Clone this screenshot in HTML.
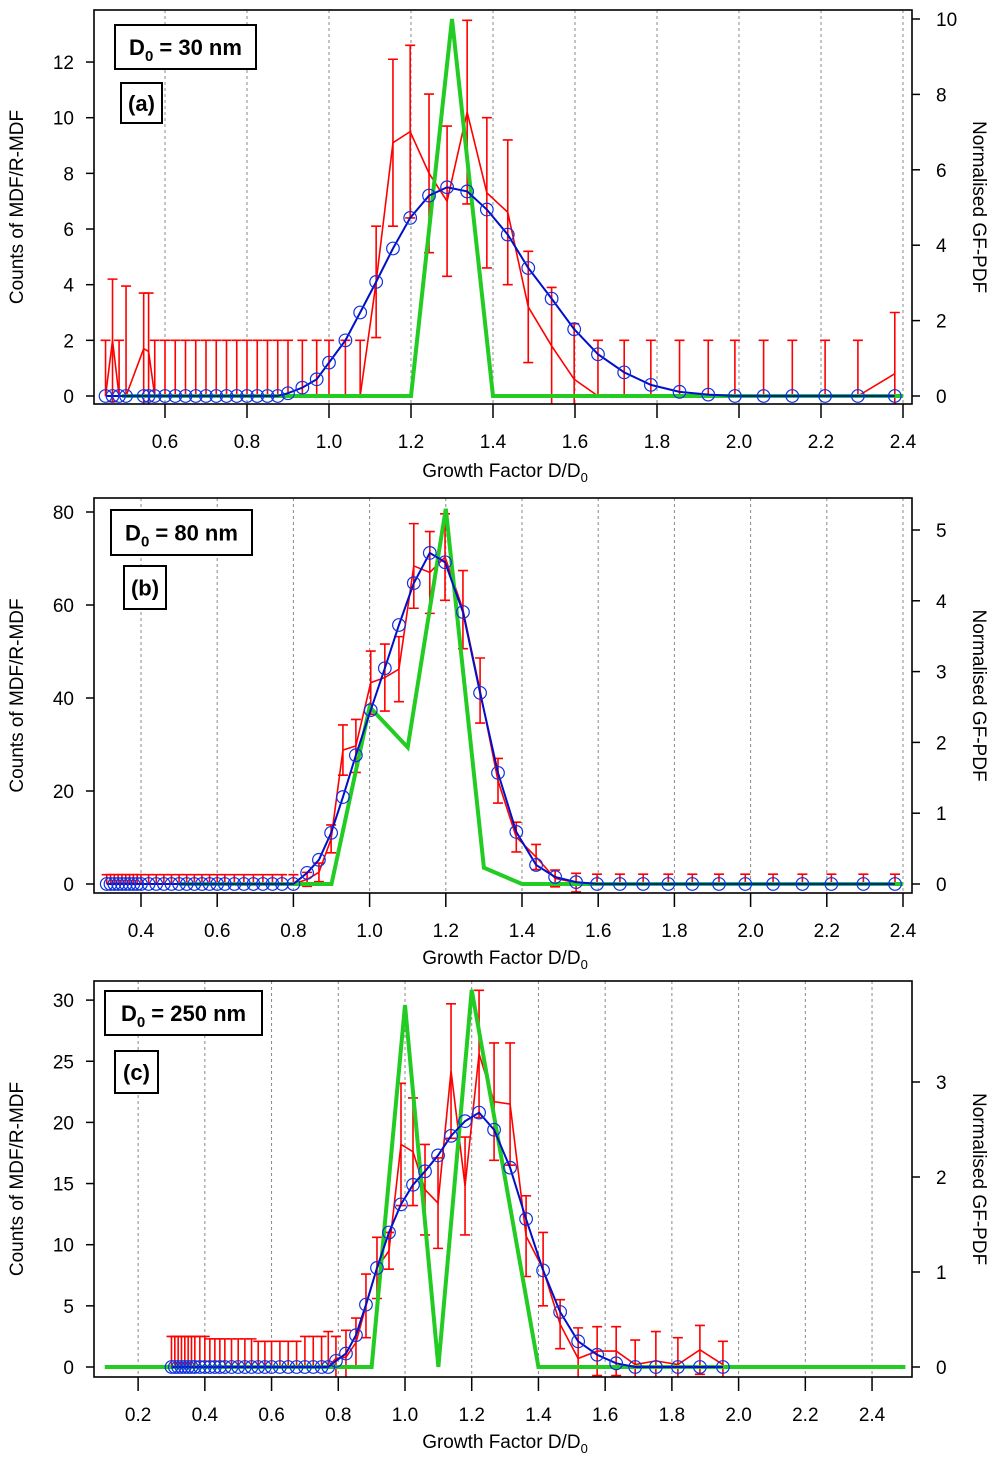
<!DOCTYPE html>
<html><head><meta charset="utf-8"><style>
html,body{margin:0;padding:0;background:#fff;}
svg{display:block;font-family:"Liberation Sans",Arial,sans-serif;}
</style></head><body>
<svg id="chart" width="997" height="1464" viewBox="0 0 997 1464" xmlns="http://www.w3.org/2000/svg"></svg>
<script>
// ---------- Panel (a) D0 = 30 nm ----------
const aGF = [0.455,0.472,0.488,0.505,0.548,0.56,0.575,0.6,0.625,0.65,0.675,0.70,0.725,0.75,0.775,0.80,0.825,0.85,0.875,0.90,0.935,0.97,1.0,1.04,1.076,1.115,1.156,1.198,1.244,1.288,1.337,1.385,1.436,1.486,1.543,1.598,1.656,1.72,1.785,1.855,1.925,1.99,2.06,2.13,2.21,2.29,2.38];
const aFit = [0,0,0,0,0,0,0,0,0,0,0,0,0,0,0,0,0,0,0,0.1,0.3,0.6,1.2,2.0,3.0,4.1,5.3,6.4,7.2,7.5,7.35,6.7,5.8,4.6,3.5,2.4,1.5,0.85,0.4,0.15,0.05,0,0,0,0,0,0];
const aCnt = [0,2,0,0,1.7,1.6,0,0,0,0,0,0,0,0,0,0,0,0,0,0,0,0,0,0,0,4.1,9.1,9.5,8.0,7.0,10.2,7.3,6.6,3.2,1.8,0.6,0,0,0,0,0,0,0,0,0,0,0.8];
const aErr = [2,2.2,2,3.95,2,2.1,2,2,2,2,2,2,2,2,2,2,2,2,2,2,2,2,2,2,2,2,3.0,3.1,2.85,2.7,3.3,2.7,2.6,2.0,2.1,2.0,2,2,2,2,2,2,2,2,2,2,2.2];
const aGreenX = [0.495,1.2,1.3,1.4,2.4];
const aGreenY = [0,0,10,0,0];
const aXTicks = [0.6,0.8,1.0,1.2,1.4,1.6,1.8,2.0,2.2,2.4];
const aYTicks = [0,2,4,6,8,10,12];
const aRTicks = [0,2,4,6,8,10];

// ---------- Panel (b) D0 = 80 nm ----------
const bGF = [0.31,0.32,0.33,0.34,0.35,0.36,0.37,0.38,0.39,0.40,0.42,0.44,0.46,0.48,0.50,0.52,0.54,0.56,0.58,0.60,0.62,0.645,0.67,0.695,0.72,0.745,0.77,0.80,0.836,0.867,0.899,0.93,0.964,1.003,1.04,1.077,1.116,1.158,1.198,1.245,1.29,1.337,1.385,1.437,1.487,1.542,1.597,1.657,1.718,1.784,1.847,1.917,1.986,2.059,2.136,2.212,2.296,2.379];
const bFit = [0,0,0,0,0,0,0,0,0,0,0,0,0,0,0,0,0,0,0,0,0,0,0,0,0,0,0,0,2.4,5.2,11,18.7,27.7,37.4,46.4,55.7,64.7,71.2,69.2,58.5,41.1,23.9,11.2,4.1,1.5,0.4,0,0,0,0,0,0,0,0,0,0,0,0];
const bCnt = [0,0,0,0,0,0,0,0,0,0,0,0,0,0,0,0,0,0,0,0,0,0,0,0,0,0,0,0,1.0,2.5,9.7,28.8,29.7,43.3,44.4,46.2,68.4,67,70.3,59,41.6,22.2,10.1,5.8,1.2,0.3,0,0,0,0,0,0,0,0,0,0,0,0];
const bErr = [2,2,2,2,2,2,2,2,2,2,2,2,2,2,2,2,2,2,2,2,2,2,2,2,2,2,2,2,1.5,2,3,5.4,5.7,6.8,7.2,7.0,9.1,8.8,9.3,8.4,7,4.8,3.2,2.7,1.8,2.0,2.1,2.1,2.1,2.1,2.1,2.1,2.1,2.1,2.1,2.1,2.1,2.1];
const bGreenX = [0.5,0.9,1.0,1.1,1.2,1.3,1.4,2.4];
const bGreenY = [0,0,2.5,1.93,5.3,0.23,0,0];
const bXTicks = [0.4,0.6,0.8,1.0,1.2,1.4,1.6,1.8,2.0,2.2,2.4];
const bYTicks = [0,20,40,60,80];
const bRTicks = [0,1,2,3,4,5];

// ---------- Panel (c) D0 = 250 nm ----------
const cGF = [0.30,0.31,0.32,0.33,0.34,0.35,0.36,0.37,0.385,0.40,0.415,0.43,0.445,0.46,0.48,0.50,0.52,0.54,0.56,0.58,0.60,0.625,0.65,0.675,0.70,0.725,0.75,0.77,0.793,0.823,0.853,0.883,0.916,0.952,0.988,1.024,1.06,1.099,1.138,1.18,1.222,1.267,1.315,1.363,1.414,1.465,1.519,1.576,1.633,1.69,1.752,1.818,1.884,1.953];
const cFit = [0,0,0,0,0,0,0,0,0,0,0,0,0,0,0,0,0,0,0,0,0,0,0,0,0,0,0,0,0.5,1.1,2.6,5.1,8.1,11.0,13.3,14.9,16.0,17.3,18.9,20.1,20.8,19.4,16.3,12.1,7.9,4.5,2.1,1.0,0.3,0,0,0,0,0];
const cCnt = [0,0,0,0,0,0,0,0,0,0,0,0,0,0,0,0,0,0,0,0,0,0,0,0,0,0,0,0,0.7,0.8,2.0,5.0,8.1,9.5,18.2,17.6,14.5,13.4,24.2,14.8,25.6,21.7,21.5,10.7,8.0,3.5,0.7,1.3,1.3,0.2,0.5,0.2,1.4,0.2];
const cErr = [2.5,2.5,2.5,2.5,2.5,2.5,2.5,2.5,2.5,2.5,2.3,2.3,2.3,2.3,2.3,2.3,2.3,2.3,2.1,2.1,2.1,2.1,2.1,2.1,2.5,2.5,2.5,2.9,1.8,2.2,2.0,2.6,2.5,1.5,5.0,4.4,3.7,3.7,5.5,4.0,5.2,4.8,5.0,3.3,3.0,2.0,2.5,2.0,2.0,2.0,2.4,2.2,2.0,1.9];
const cGreenX = [0.1,0.9,1.0,1.1,1.2,1.4,2.5];
const cGreenY = [0,0,3.81,0,3.97,0,0];
const cXTicks = [0.2,0.4,0.6,0.8,1.0,1.2,1.4,1.6,1.8,2.0,2.2,2.4];
const cYTicks = [0,5,10,15,20,25,30];
const cRTicks = [0,1,2,3];

const NS = 'http://www.w3.org/2000/svg';
const svg = document.getElementById('chart');
function mk(tag, attrs, parent){
  const e = document.createElementNS(NS, tag);
  for (const k in attrs) e.setAttribute(k, attrs[k]);
  (parent||svg).appendChild(e);
  return e;
}

const panels = [
  {id:'a', label:'(a)', d0:'30', l:94,r:912,t:10,b:404, xpx0:329, xs:410, y0:396, ysL:27.83, ysR:37.7,
   gf:aGF, fit:aFit, cnt:aCnt, err:aErr, gx:aGreenX, gy:aGreenY, xt:aXTicks, yt:aYTicks, rt:aRTicks,
   box:[115,25,141,44], lab:[121,83,41,40], xtitleY:477},
  {id:'b', label:'(b)', d0:'80', l:94,r:912,t:498,b:893, xpx0:369.6, xs:381, y0:884, ysL:4.65, ysR:70.8,
   gf:bGF, fit:bFit, cnt:bCnt, err:bErr, gx:bGreenX, gy:bGreenY, xt:bXTicks, yt:bYTicks, rt:bRTicks,
   box:[111,510,141,45], lab:[124,566,42,43], xtitleY:964},
  {id:'c', label:'(c)', d0:'250', l:94,r:912,t:981,b:1377, xpx0:405, xs:333.6, y0:1367, ysL:12.23, ysR:95,
   gf:cGF, fit:cFit, cnt:cCnt, err:cErr, gx:cGreenX, gy:cGreenY, xt:cXTicks, yt:cYTicks, rt:cRTicks,
   box:[105,991,157,44], lab:[115,1051,43,42], xtitleY:1448}
];

panels.forEach(p => {
  const X = g => p.xpx0 + (g - 1) * p.xs;
  const YL = v => p.y0 - v * p.ysL;
  const YR = v => p.y0 - v * p.ysR;
  const g = mk('g', {});
  
  
  const cp = mk('clipPath', {id:'clip-' + p.id}, g);
  mk('rect', {x:p.l, y:p.t, width:p.r-p.l, height:p.b-p.t}, cp);

  p.xt.forEach(t => {
    const x = X(t);
    const gl = mk('line', {x1:x, x2:x, y1:p.t, y2:p.b, stroke:'#888', 'stroke-width':1, 'stroke-dasharray':'3,3'}, g);
    
    
    const tk = mk('line', {x1:x, x2:x, y1:p.b, y2:p.b+14, stroke:'#000', 'stroke-width':1.5}, g);
    
    
    const tl = mk('text', {x:x, y:p.b+44, 'font-size':19, 'text-anchor':'middle'}, g);
    tl.textContent = t.toFixed(1);
    
    
  });
  p.yt.forEach(t => {
    const y = YL(t);
    const tk = mk('line', {x1:p.l-8, x2:p.l, y1:y, y2:y, stroke:'#000', 'stroke-width':1.5}, g);
    
    
    const tl = mk('text', {x:p.l-20, y:y+7, 'font-size':19, 'text-anchor':'end'}, g);
    tl.textContent = t;
    
    
  });
  p.rt.forEach(t => {
    const y = YR(t);
    const tk = mk('line', {x1:p.r, x2:p.r+8, y1:y, y2:y, stroke:'#000', 'stroke-width':1.5}, g);
    
    
    const tl = mk('text', {x:p.r+24, y:y+7, 'font-size':19, 'text-anchor':'start'}, g);
    tl.textContent = t;
    
    
  });

  const dg = mk('g', {'clip-path':'url(#clip-' + p.id + ')'}, g);
  
  

  p.gf.forEach((x0, i) => {
    const x = X(x0), v = p.cnt[i], e = p.err[i];
    const lo = v > 0 ? v - e : v;
    const eb = mk('path', {d:'M'+x+','+YL(lo)+'V'+YL(v+e)+'M'+(x-5)+','+YL(v+e)+'H'+(x+5)+(v>0?'M'+(x-5)+','+YL(lo)+'H'+(x+5):''), stroke:'#f00', 'stroke-width':1.6, fill:'none'}, dg);
    
    
  });
  const rl = mk('polyline', {points:p.gf.map((x,i)=>X(x)+','+YL(p.cnt[i])).join(' '), stroke:'#f00', 'stroke-width':1.6, fill:'none'}, dg);
  
  
  const gl = mk('polyline', {points:p.gx.map((x,i)=>X(x)+','+YR(p.gy[i])).join(' '), stroke:'#22cc22', 'stroke-width':4, fill:'none', 'stroke-linejoin':'miter'}, dg);
  
  
  const bl = mk('polyline', {points:p.gf.map((x,i)=>X(x)+','+YL(p.fit[i])).join(' '), stroke:'#0010c8', 'stroke-width':2, fill:'none'}, dg);
  
  
  p.gf.forEach((x0, i) => {
    const c = mk('circle', {cx:X(x0), cy:YL(p.fit[i]), r:6.3, stroke:'#1030e0', 'stroke-width':1.2, fill:'none'}, dg);
    
    
  });

  const fr = mk('rect', {x:p.l, y:p.t, width:p.r-p.l, height:p.b-p.t, fill:'none', stroke:'#000', 'stroke-width':1.6}, g);
  
  

  const my = (p.t + p.b) / 2;
  const lt = mk('text', {x:0, y:0, 'font-size':19, 'text-anchor':'middle', transform:'translate(23,'+my+') rotate(-90)'}, g);
  lt.textContent = 'Counts of MDF/R-MDF';
  
  
  const rtt = mk('text', {x:0, y:0, 'font-size':19, 'text-anchor':'middle', transform:'translate(973,'+my+') rotate(90)'}, g);
  rtt.textContent = 'Normalised GF-PDF';
  
  
  const xt = mk('text', {x:505, y:p.xtitleY, 'font-size':19, 'text-anchor':'middle'}, g);
  xt.innerHTML = 'Growth Factor D/D<tspan font-size="13" dy="5">0</tspan>';
  
  

  const bx = mk('rect', {x:p.box[0], y:p.box[1], width:p.box[2], height:p.box[3], fill:'#fff', stroke:'#000', 'stroke-width':2}, g);
  
  
  const bt = mk('text', {x:p.box[0]+p.box[2]/2, y:p.box[1]+p.box[3]/2+8, 'font-size':22, 'font-weight':'bold', 'text-anchor':'middle'}, g);
  bt.innerHTML = 'D<tspan font-size="15" dy="6">0</tspan><tspan dy="-6"> = ' + p.d0 + ' nm</tspan>';
  
  
  const lb = mk('rect', {x:p.lab[0], y:p.lab[1], width:p.lab[2], height:p.lab[3], fill:'#fff', stroke:'#000', 'stroke-width':2}, g);
  
  
  const ltx = mk('text', {x:p.lab[0]+p.lab[2]/2, y:p.lab[1]+p.lab[3]/2+8, 'font-size':22, 'font-weight':'bold', 'text-anchor':'middle'}, g);
  ltx.textContent = p.label;
  
  
});
</script>
</body></html>
